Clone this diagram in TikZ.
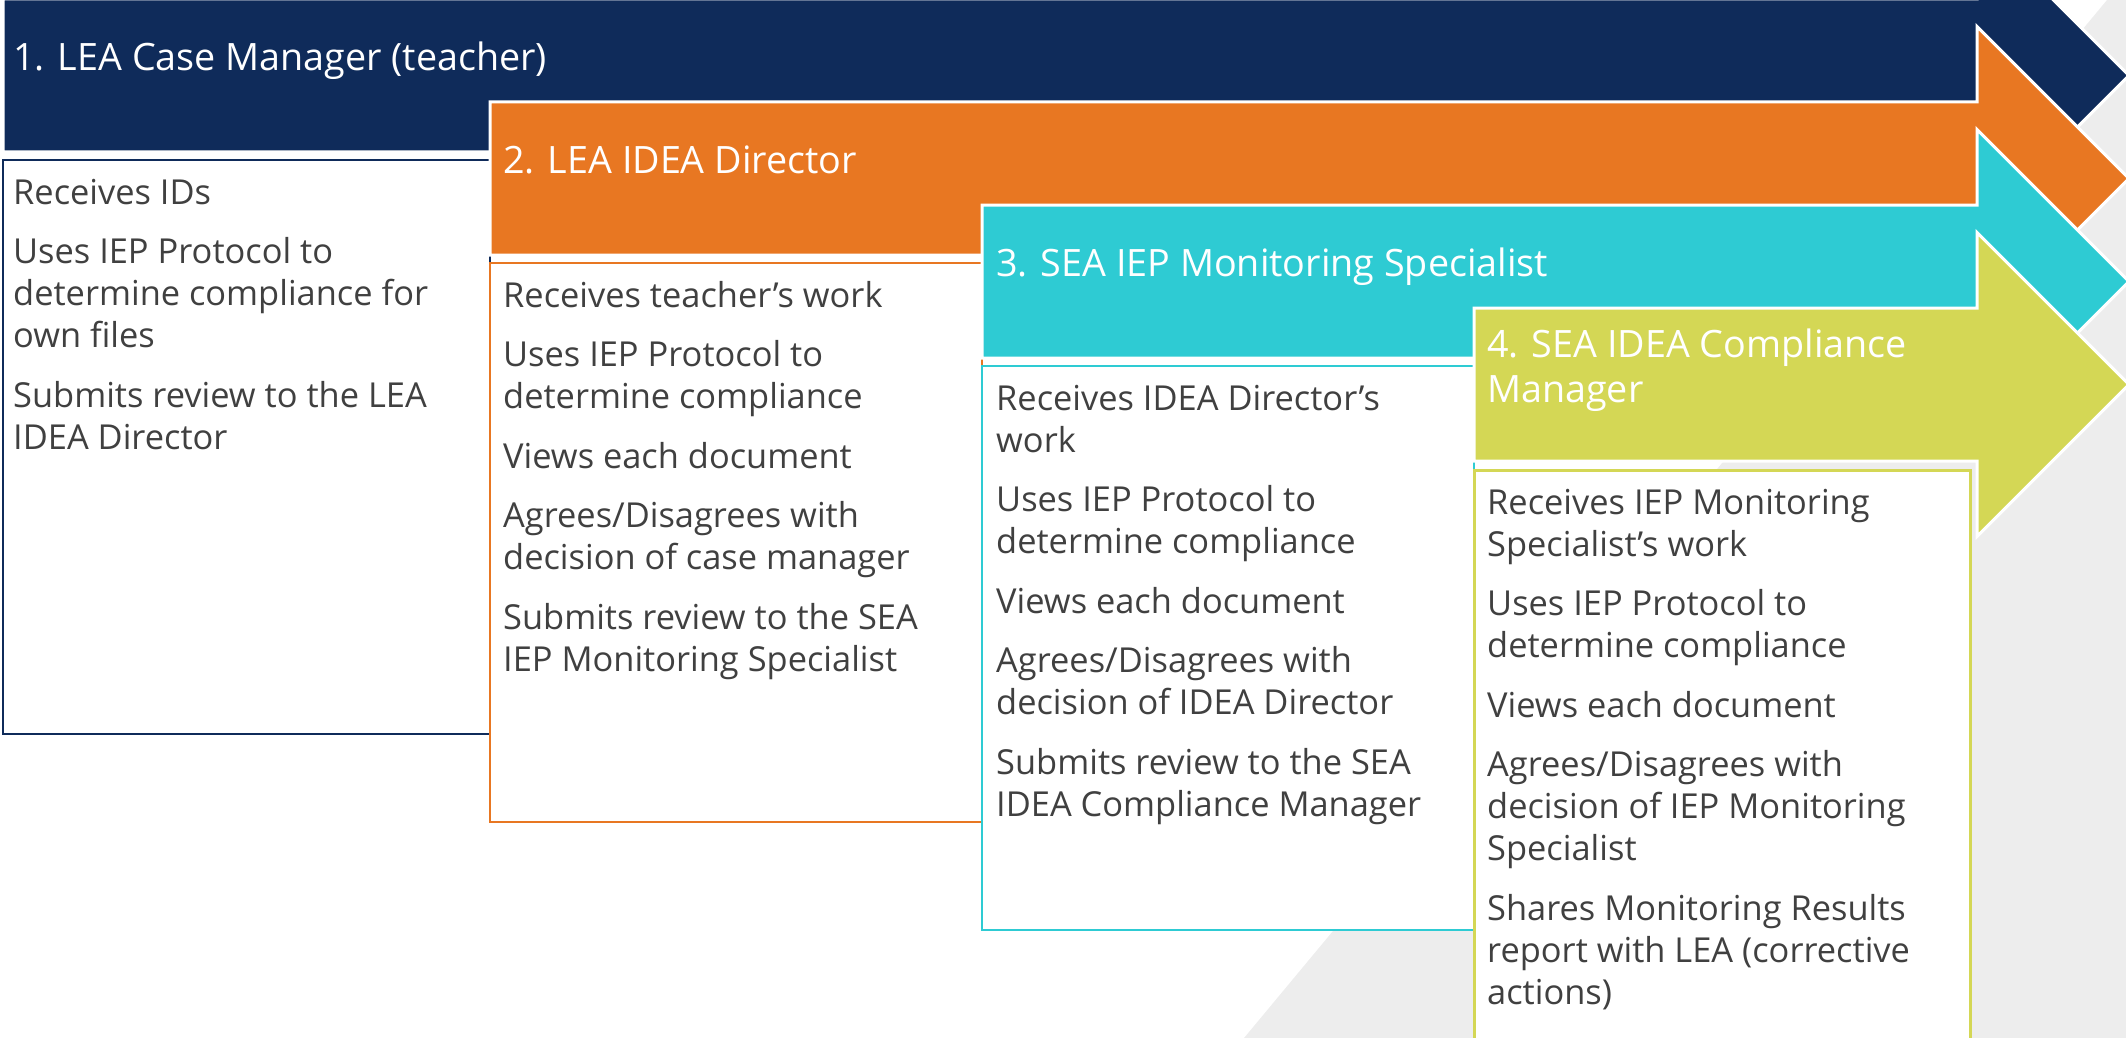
\documentclass[tikz,border=0pt]{standalone}
\usepackage{fontspec}
\setmainfont{Open Sans}
\usepackage{tikz}

\definecolor{navy}{HTML}{0F2B5A}
\definecolor{carrot}{HTML}{E87722}
\definecolor{teal}{HTML}{2ECBD3}
\definecolor{lime}{HTML}{D4D755}
\definecolor{backgray}{HTML}{EDEDED}
\definecolor{textgray}{HTML}{404040}

\tikzset{arrowshape/.style = {draw = white, line width = 3, line join = miter}}
\tikzset{stepbox/.style = {fill = white, line width = 2.5}}
\tikzset{titletext/.style = {anchor = north west, inner sep = 0, align = left, text = white,
    font = \fontsize{37.7}{45}\selectfont}}
\tikzset{bodytext/.style = {anchor = north west, inner sep = 0, align = left, text = textgray,
    font = \fontsize{34.4}{42}\selectfont}}

\begin{document}
\begin{tikzpicture}[x=1pt, y=-1pt]
          \useasboundingbox (0, 0) rectangle (2126, 1038);
          \clip (0, 0) rectangle (2126, 1038);

          % grey backdrop on the right
          \fill [backgray] (1244, 1038) -- (2107, 0) -- (2126, 0) -- (2126, 1038) -- cycle;

          % step 1
          \fill [navy, arrowshape] (3, -1) -- (1977, -1) -- (1977, -76.5) -- (2129, 75.5)
            -- (1977, 227.5) -- (1977, 152) -- (3, 152) -- cycle;
          \draw [stepbox, draw = navy] (3, 160) rectangle (490, 734);

          % step 2
          \fill [carrot, arrowshape] (490, 102) -- (1977, 102) -- (1977, 26.5) -- (2129, 178.5)
            -- (1977, 330.5) -- (1977, 255) -- (490, 255) -- cycle;
          \draw [stepbox, draw = carrot] (490, 263) rectangle (982, 822);

          % step 3
          \fill [teal, arrowshape] (982, 205) -- (1977, 205) -- (1977, 129.5) -- (2129, 281.5)
            -- (1977, 433.5) -- (1977, 358) -- (982, 358) -- cycle;
          \draw [stepbox, draw = teal] (982, 366) rectangle (1474, 930);

          % step 4
          \fill [lime, arrowshape] (1474, 308) -- (1977, 308) -- (1977, 232.5) -- (2129, 384.5)
            -- (1977, 536.5) -- (1977, 461) -- (1474, 461) -- cycle;
          \draw [stepbox, draw = lime, line width = 3] (1474, 470) rectangle (1970, 1120);

          % titles
          \node (t1) [titletext] at (13, 38.5) {\strut 1. LEA Case Manager (teacher)};
          \node (t2) [titletext] at (503, 141.5) {\strut 2. LEA IDEA Director};
          \node (t3) [titletext] at (996, 244.5) {\strut 3. SEA IEP Monitoring Specialist};
          \node (t4) [titletext] at (1487, 326) {\strut 4. SEA IDEA Compliance\\Manager};

          % tasks
          \node (b1) [bodytext] at (13, 174.6) {\strut Receives IDs\\[17.5pt]
            Uses IEP Protocol to\\determine compliance for\\own files\\[17.5pt]
            Submits review to the LEA\\IDEA Director};
          \node (b2) [bodytext] at (503, 277.6) {\strut Receives teacher’s work\\[17.5pt]
            Uses IEP Protocol to\\determine compliance\\[17.5pt]
            Views each document\\[17.5pt]
            Agrees/Disagrees with\\decision of case manager\\[17.5pt]
            Submits review to the SEA\\IEP Monitoring Specialist};
          \node (b3) [bodytext] at (996, 380.6) {\strut Receives IDEA Director’s\\work\\[17.5pt]
            Uses IEP Protocol to\\determine compliance\\[17.5pt]
            Views each document\\[17.5pt]
            Agrees/Disagrees with\\decision of IDEA Director\\[17.5pt]
            Submits review to the SEA\\IDEA Compliance Manager};
          \node (b4) [bodytext] at (1487, 484.6) {\strut Receives IEP Monitoring\\Specialist’s work\\[17.5pt]
            Uses IEP Protocol to\\determine compliance\\[17.5pt]
            Views each document\\[17.5pt]
            Agrees/Disagrees with\\decision of IEP Monitoring\\Specialist\\[17.5pt]
            Shares Monitoring Results\\report with LEA (corrective\\actions)};
        \end{tikzpicture}
\end{document}
